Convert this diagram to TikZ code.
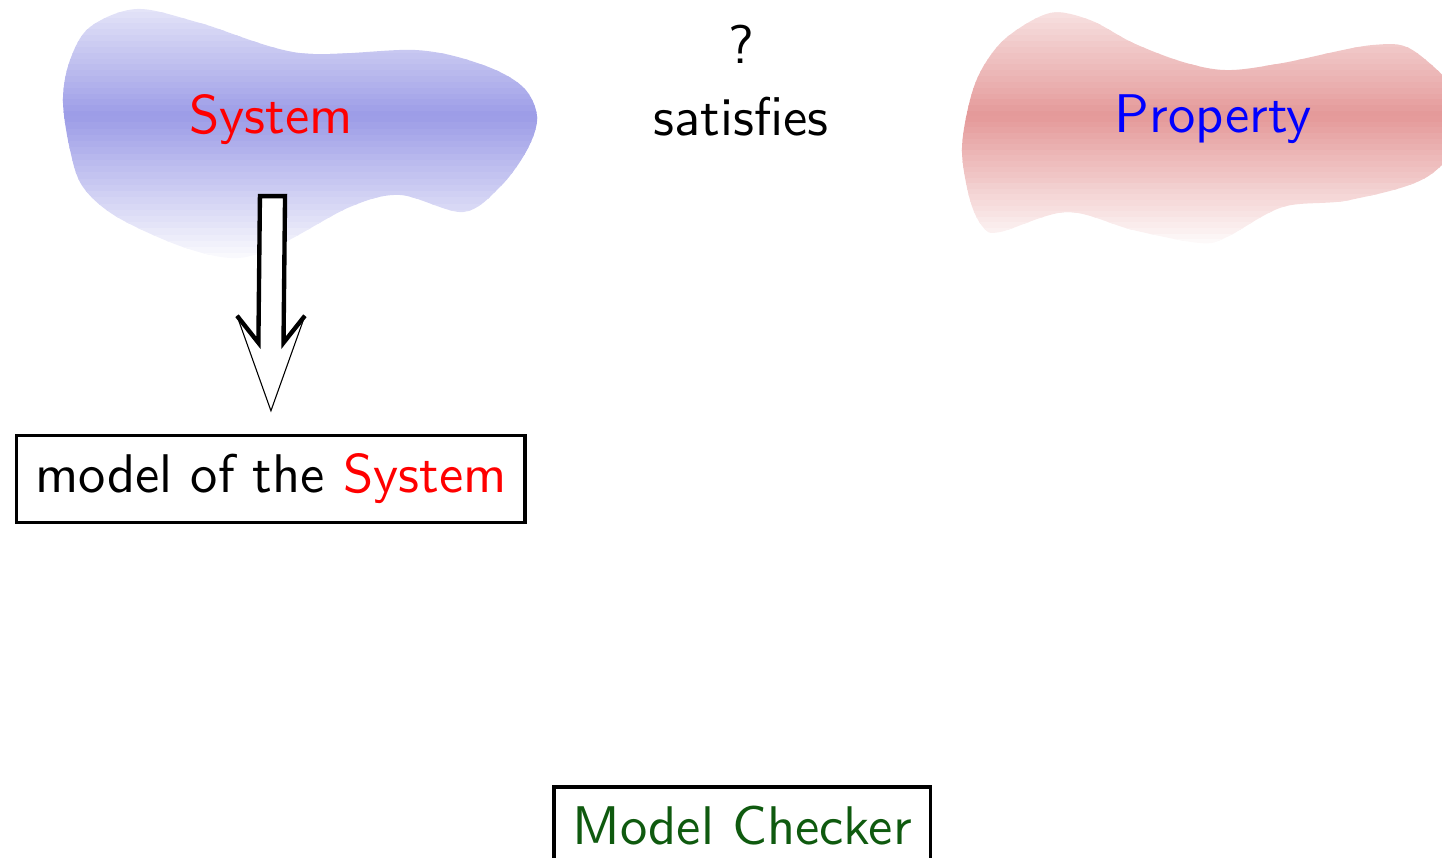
\documentclass[tikz,border=0pt]{standalone}
\usepackage{amsmath}
\usepackage{amssymb}
\usetikzlibrary{calc}

\definecolor{sysblue}{RGB}{155,155,230}
\definecolor{propred}{RGB}{228,152,152}
\definecolor{checkgreen}{RGB}{15,90,15}

\tikzset{
  blobtext/.style={inner sep=0pt},
  boxed/.style={draw, semithick, inner sep=3.4pt},
}

% vertical fade inside the current clip: #1 colour, #2 and #3 the x range,
% #4 the y where it is darkest, #5 the y where it is white again
\newcommand{\stripfade}[5]{%
  \foreach \k in {0,...,19} {%
    \pgfmathsetmacro{\yup}{#4*\k/20}%
    \pgfmathsetmacro{\ydn}{#4*(\k+1)/20-0.01}%
    \pgfmathtruncatemacro{\mixpct}{22+78*(\k+0.5)/20}%
    \fill[#1!\mixpct!white] (#2,\yup) rectangle (#3,\ydn);%
  }%
  \foreach \k in {0,...,23} {%
    \pgfmathsetmacro{\yup}{#4+(#5-#4)*\k/24+0.005}%
    \pgfmathsetmacro{\ydn}{#4+(#5-#4)*(\k+1)/24-0.005}%
    \pgfmathtruncatemacro{\mixpct}{100-100*(\k+0.5)/24}%
    \fill[#1!\mixpct!white] (#2,\yup) rectangle (#3,\ydn);%
  }%
}

\begin{document}
\begin{tikzpicture}[font=\sffamily]
  \useasboundingbox (0,0) rectangle (9.303,-5.535);

  % the two clouds
  \begin{scope}
    \clip plot[smooth cycle, tension=0.55] coordinates {
      (0.406,-0.645) (0.452,-0.387) (0.581,-0.174) (0.884,-0.058)
      (1.290,-0.148) (1.935,-0.342) (2.690,-0.323) (3.116,-0.419)
      (3.374,-0.561) (3.465,-0.755) (3.400,-0.968) (3.226,-1.206)
      (2.987,-1.368) (2.581,-1.258) (2.258,-1.335) (1.826,-1.568)
      (1.529,-1.665) (1.181,-1.594) (0.755,-1.400) (0.535,-1.206)
      (0.452,-0.968)};
    \stripfade{sysblue}{0.2}{3.7}{-0.755}{-1.72}
  \end{scope}
  \begin{scope}
    \clip plot[smooth cycle, tension=0.55] coordinates {
      (6.206,-0.968) (6.258,-0.645) (6.342,-0.432) (6.497,-0.239)
      (6.774,-0.084) (7.032,-0.129) (7.310,-0.277) (7.632,-0.400)
      (7.916,-0.452) (8.277,-0.406) (8.858,-0.290) (9.142,-0.342)
      (9.484,-0.742) (9.226,-1.129) (8.710,-1.290) (8.277,-1.335)
      (7.916,-1.529) (7.742,-1.568) (7.310,-1.484) (6.884,-1.368)
      (6.452,-1.497) (6.342,-1.465) (6.258,-1.290)};
    \stripfade{propred}{6.0}{9.6}{-0.755}{-1.62}
  \end{scope}

  \node[blobtext, text=red] (sys) at (1.748,-0.77) {System};
  \node[blobtext, text=blue] (prop) at (7.826,-0.77) {Property};
  \node (quest) at (4.78,-0.284) {?};
  \node (sat) at (4.78,-0.755) {satisfies};

  \node[boxed] (model) at (1.748,-3.09) {model of the \textcolor{red}{System}};
  \node[boxed, text=checkgreen] (checker) at (4.787,-5.323) {Model Checker};

  % big arrow down to the model
  \coordinate (arrtop) at (1.758,-1.265);
  \coordinate (arrtip) at ([yshift=0.148cm]model.north);
  \fill[white] ([shift={(-0.219,0.613)}]arrtip) -- ([shift={(-0.081,0.439)}]arrtip)
    -- ([xshift=-0.081cm]arrtop) -- ([xshift=0.081cm]arrtop)
    -- ([shift={(0.081,0.439)}]arrtip) -- ([shift={(0.219,0.613)}]arrtip)
    -- (arrtip) -- cycle;
  \draw[thick, line join=miter] ([shift={(-0.219,0.613)}]arrtip) -- ([shift={(-0.081,0.439)}]arrtip)
    -- ([xshift=-0.081cm]arrtop) -- ([xshift=0.081cm]arrtop)
    -- ([shift={(0.081,0.439)}]arrtip) -- ([shift={(0.219,0.613)}]arrtip);
  \draw[very thin] ([shift={(-0.219,0.613)}]arrtip) -- (arrtip)
    -- ([shift={(0.219,0.613)}]arrtip);
\end{tikzpicture}
\end{document}
